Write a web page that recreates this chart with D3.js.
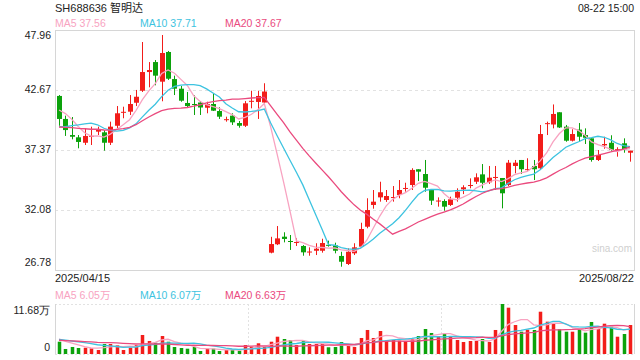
<!DOCTYPE html>
<html>
<head>
<meta charset="utf-8">
<script src="https://cdn.jsdelivr.net/npm/d3@7"></script>
<style>
body { margin: 0; background: #fff; }
svg { display: block; font-family: "Liberation Sans", Arial, "Noto Sans CJK SC", sans-serif; }
</style>
</head>
<body>
<div id="chart"></div>
<script>
// trading days 2025/04/15 .. 2025/08/22
const dates = [
  "04-15","04-16","04-17","04-18","04-21","04-22","04-23","04-24","04-25","04-28","04-29","04-30",
  "05-06","05-07","05-08","05-09","05-12","05-13","05-14","05-15","05-16","05-19","05-20","05-21","05-22","05-23","05-26","05-27","05-28","05-29","05-30",
  "06-03","06-04","06-05","06-06","06-09","06-10","06-11","06-12","06-13","06-16","06-17","06-18","06-19","06-20","06-23","06-24","06-25","06-26","06-27","06-30",
  "07-01","07-02","07-03","07-04","07-07","07-08","07-09","07-10","07-11","07-14","07-15","07-16","07-17","07-18","07-21","07-22","07-23","07-24","07-25","07-28","07-29","07-30","07-31",
  "08-01","08-04","08-05","08-06","08-07","08-08","08-11","08-12","08-13","08-14","08-15","08-18","08-19","08-20","08-21","08-22"
];

const open = [
  42.14,40.11,38.69,38.49,38.01,38.56,38.99,38.93,38.01,39.51,40.68,40.75,41.54,42.60,44.25,45.13,43.40,46.02,43.63,42.78,
  41.52,41.43,41.56,41.10,41.43,40.81,40.04,40.40,39.75,39.51,41.67,41.61,41.56,28.31,29.05,29.72,29.34,29.21,28.90,28.37,
  28.48,28.48,29.00,28.96,28.02,27.31,28.25,28.84,30.60,32.52,33.19,32.96,33.18,33.40,33.97,34.28,35.67,35.25,33.84,32.87,
  32.87,32.52,33.16,33.90,34.24,34.57,35.22,34.52,34.94,34.90,34.28,35.96,36.49,35.64,35.96,35.76,39.70,39.62,40.70,39.43,
  38.19,39.17,38.69,38.40,36.49,37.78,38.01,37.41,37.96,37.13
];
const high = [
  42.22,40.40,40.28,38.69,39.28,39.43,39.43,39.13,39.87,41.25,41.19,42.22,42.67,46.90,45.13,45.31,47.52,46.11,43.93,43.02,
  42.49,42.20,41.69,41.63,42.37,41.14,40.31,40.61,39.93,41.69,42.60,42.60,43.26,29.71,30.66,30.11,29.87,29.58,28.98,28.78,
  29.14,29.54,29.37,29.19,28.39,28.69,29.14,30.95,33.11,33.84,34.57,33.84,34.19,34.72,34.48,35.76,35.67,36.49,33.90,33.19,
  33.02,33.25,33.99,34.26,34.87,35.31,36.13,35.96,35.96,34.90,36.49,36.49,36.49,36.64,36.49,39.58,39.87,41.39,40.70,39.58,
  39.20,39.75,39.28,38.40,37.37,38.54,38.67,37.61,38.40,37.31
];
const low = [
  39.51,38.61,38.31,37.52,37.81,37.81,38.69,37.31,37.81,39.31,40.17,40.46,41.25,42.49,42.90,43.08,41.67,43.55,42.22,41.63,
  41.14,40.46,40.46,40.61,40.81,40.11,39.87,39.58,39.34,39.40,41.05,40.11,41.52,28.25,28.98,29.22,28.55,28.90,28.04,28.04,
  28.10,28.31,28.84,28.25,27.07,27.22,28.10,28.77,30.46,32.19,32.81,32.79,32.81,33.11,33.69,33.84,34.63,33.69,32.52,32.37,
  32.01,32.43,32.81,33.48,33.99,34.37,33.99,34.37,33.84,32.22,34.19,35.31,35.25,35.54,34.72,35.67,38.69,39.28,39.31,38.10,
  38.12,38.10,37.90,36.34,36.40,37.48,37.29,36.78,37.13,36.34
];
const close = [
  40.11,39.13,38.54,38.08,38.61,38.62,39.20,38.01,39.43,40.61,40.74,41.43,42.07,44.25,44.43,43.93,45.93,43.66,42.78,41.72,
  41.25,41.39,41.12,41.43,40.84,40.31,40.09,39.81,39.51,41.49,41.71,42.14,42.53,29.07,29.57,29.52,29.29,29.25,28.34,28.41,
  28.66,29.16,28.96,28.48,27.51,28.39,28.78,30.40,32.07,32.81,33.64,33.31,33.22,33.84,34.02,35.61,35.46,34.04,32.90,32.91,
  32.37,33.02,33.69,34.08,34.28,34.96,34.48,34.93,34.99,33.55,36.25,36.25,35.67,35.68,35.67,38.78,39.74,40.55,39.36,38.19,
  38.78,38.54,38.45,36.49,36.93,37.90,37.37,37.44,37.43,37.31
];
// volume, unit 万
const volume = [
  2.87,1.17,1.64,1.40,1.47,1.33,0.93,2.34,2.34,2.03,0.93,1.47,2.10,4.44,3.04,2.64,4.20,2.87,1.64,1.40,
  1.24,1.64,0.70,1.24,1.24,0.70,0.93,0.93,0.77,2.10,1.71,2.50,1.71,2.87,4.04,3.50,3.27,2.10,3.04,2.34,
  2.34,2.34,1.57,1.64,2.80,1.87,1.64,3.74,5.61,3.74,5.37,3.20,3.27,3.11,3.04,3.57,4.20,5.84,4.91,4.20,
  4.74,4.04,3.27,2.80,3.04,3.04,3.50,2.80,5.61,11.68,10.82,6.77,5.21,5.68,5.61,9.88,7.55,7.17,5.77,5.21,
  5.21,5.84,4.98,7.48,5.84,7.08,6.38,4.04,4.67,6.77
];
// sessions before 04/15, only feeding the moving averages
const priorClose = [39.58,39.31,39.13,39.40,39.49,39.22,39.31,39.49,39.40,39.40,39.13,37.54,37.37,37.72,37.98,40.72,41.07,41.25,41.34];
const priorVolume = [2.9,3.1,2.8,3.0,3.2,2.9,3.0,3.1,2.9,3.0,3.2,3.5,3.4,3.3,3.4,3.8,3.7,3.6,3.5];

const priceTicks = [47.96, 42.67, 37.37, 32.08, 26.78];
const volumeMax = 11.68;
const maPeriods = [5, 10, 20];
const maColors = ["#f8a3c1", "#3dc3e0", "#ea4a7e"];
const priceLegend = ["MA5 37.56", "MA10 37.71", "MA20 37.67"];
const volumeLegend = ["MA5 6.05万", "MA10 6.07万", "MA20 6.63万"];
const title = "SH688636 智明达";
const stamp = "08-22 15:00";
const dateLabels = ["2025/04/15", "2025/08/22"];

const upColor = "#f21d1a";
const downColor = "#0ca20c";
const gridColor = "#e2e2e2";
const borderColor = "#d6d6d6";

const W = 640, H = 360;
const left = 55, right = 634;
const pTop = 30, pBottom = 270;
const vTop = 304, vBottom = 354;

const svg = d3.select("#chart").append("svg")
    .attr("width", W)
    .attr("height", H);

const x = d3.scaleBand()
    .domain(d3.range(dates.length))
    .range([left, right])
    .padding(0.25);
const cx = i => x(i) + x.bandwidth() / 2;

const y = d3.scaleLinear()
    .domain([priceTicks[4], priceTicks[0]])
    .range([pBottom, pTop]);

const yv = d3.scaleLinear()
    .domain([0, volumeMax])
    .range([vBottom, vTop]);

const movingAvg = (prior, vals, n) => {
    const all = prior.concat(vals);
    return vals.map((_, i) => d3.mean(all.slice(i + prior.length - n + 1, i + prior.length + 1)));
};

// header texts
svg.append("text").attr("x", left).attr("y", 12)
    .style("font-size", "11px").style("fill", "#222").text(title);
svg.append("text").attr("x", right).attr("y", 12).attr("text-anchor", "end")
    .style("font-size", "10.5px").style("fill", "#222").text(stamp);

const legendX = [left, 140, 225];
svg.selectAll(".plegend")
    .data(priceLegend)
    .enter().append("text")
    .attr("x", (d, i) => legendX[i])
    .attr("y", 27)
    .style("font-size", "10.5px")
    .style("fill", (d, i) => maColors[i])
    .text(d => d);

// price grid + frame
svg.selectAll(".pgrid")
    .data(priceTicks.slice(1, 4))
    .enter().append("line")
    .attr("x1", left).attr("x2", right)
    .attr("y1", d => Math.round(y(d)) + 0.5).attr("y2", d => Math.round(y(d)) + 0.5)
    .style("stroke", gridColor).style("stroke-dasharray", "3,3");

svg.append("rect")
    .attr("x", left + 0.5).attr("y", pTop + 0.5)
    .attr("width", right - left).attr("height", pBottom - pTop)
    .style("fill", "none").style("stroke", borderColor);

const yAxis = d3.axisLeft(y).tickValues(priceTicks).tickSize(0).tickPadding(4).tickFormat(d3.format(".2f"));
const gy = svg.append("g")
    .attr("transform", "translate(" + (left - 0) + ",0)")
    .call(yAxis);
gy.select(".domain").remove();
gy.selectAll("text")
    .style("font-size", "10.5px").style("fill", "#222")
    .attr("dy", (d, i) => i === 0 ? "0.85em" : (i === 4 ? "-0.45em" : "0.2em"));

// watermark
svg.append("text").attr("x", right - 2).attr("y", 252).attr("text-anchor", "end")
    .style("font-size", "10px").style("fill", "#cfcfcf").text("sina.com");

// candles
const candles = svg.append("g").selectAll(".candle")
    .data(dates.map((d, i) => i))
    .enter().append("g");

candles.append("line")
    .attr("x1", i => Math.round(cx(i)) + 0.5)
    .attr("x2", i => Math.round(cx(i)) + 0.5)
    .attr("y1", i => y(high[i]))
    .attr("y2", i => y(low[i]))
    .style("stroke", i => close[i] >= open[i] ? upColor : downColor);

candles.append("rect")
    .attr("x", i => Math.round(cx(i)) + 0.5 - 2.5)
    .attr("width", 5)
    .attr("y", i => y(Math.max(open[i], close[i])))
    .attr("height", i => Math.max(1, Math.abs(y(open[i]) - y(close[i]))))
    .style("fill", i => close[i] >= open[i] ? upColor : downColor);

// price moving averages
const line = d3.line().x((d, i) => cx(i)).y(d => y(d));
maPeriods.forEach((n, k) => {
    svg.append("path")
        .datum(movingAvg(priorClose, close, n))
        .attr("d", line)
        .style("fill", "none")
        .style("stroke", maColors[k])
        .style("stroke-width", 1.3);
});

// bottom dates
svg.append("text").attr("x", left).attr("y", 282)
    .style("font-size", "11px").style("fill", "#222").text(dateLabels[0]);
svg.append("text").attr("x", right).attr("y", 282).attr("text-anchor", "end")
    .style("font-size", "11px").style("fill", "#222").text(dateLabels[1]);

// volume legend
svg.selectAll(".vlegend")
    .data(volumeLegend)
    .enter().append("text")
    .attr("x", (d, i) => legendX[i])
    .attr("y", 299)
    .style("font-size", "10.5px")
    .style("fill", (d, i) => maColors[i])
    .text(d => d);

// volume frame
svg.append("line").attr("x1", left).attr("x2", right).attr("y1", vTop + 0.5).attr("y2", vTop + 0.5)
    .style("stroke", gridColor).style("stroke-dasharray", "2,2");
svg.append("line").attr("x1", left).attr("x2", right).attr("y1", vBottom + 0.5).attr("y2", vBottom + 0.5)
    .style("stroke", gridColor).style("stroke-dasharray", "2,2");
svg.append("line").attr("x1", left + 0.5).attr("x2", left + 0.5).attr("y1", vTop).attr("y2", vBottom)
    .style("stroke", borderColor);
svg.append("line").attr("x1", right + 0.5).attr("x2", right + 0.5).attr("y1", vTop).attr("y2", vBottom)
    .style("stroke", borderColor);
[1, 2].forEach(k => {
    const gx = Math.round(left + (right - left) * k / 3) + 0.5;
    svg.append("line").attr("x1", gx).attr("x2", gx).attr("y1", vTop).attr("y2", vBottom)
        .style("stroke", gridColor).style("stroke-dasharray", "2,2");
});

const yvAxis = d3.axisLeft(yv).tickValues([0, volumeMax]).tickSize(0).tickPadding(5)
    .tickFormat(d => d === 0 ? "0" : d3.format(".2f")(d) + "万");
const gv = svg.append("g").attr("transform", "translate(" + left + ",0)").call(yvAxis);
gv.select(".domain").remove();
gv.selectAll("text")
    .style("font-size", "10.5px").style("fill", "#222")
    .attr("dy", d => d === 0 ? "-0.3em" : "0.95em");

svg.append("g").selectAll(".vol")
    .data(volume)
    .enter().append("rect")
    .attr("x", (d, i) => Math.round(cx(i)) + 0.5 - 1.75)
    .attr("width", 3.5)
    .attr("y", d => yv(d))
    .attr("height", d => vBottom - yv(d))
    .style("fill", (d, i) => close[i] >= open[i] ? upColor : downColor);

const vline = d3.line().x((d, i) => cx(i)).y(d => yv(d));
maPeriods.forEach((n, k) => {
    svg.append("path")
        .datum(movingAvg(priorVolume, volume, n))
        .attr("d", vline)
        .style("fill", "none")
        .style("stroke", maColors[k])
        .style("stroke-width", 1.3);
});
</script>
</body>
</html>
